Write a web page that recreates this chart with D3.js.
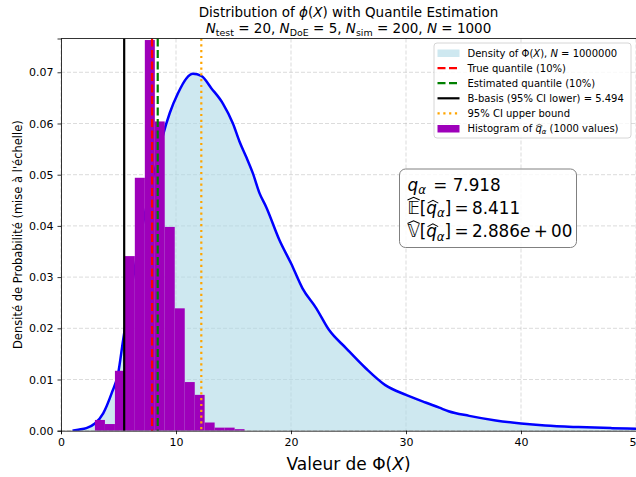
<!DOCTYPE html>
<html>
<head>
<meta charset="utf-8">
<script src="https://cdn.jsdelivr.net/npm/d3@7"></script>
<style>
  body { margin: 0; background: #fff; }
  svg { font-family: "DejaVu Sans", sans-serif; }
  svg text { white-space: pre; }
</style>
</head>
<body>
<div id="chart"></div>
<script>
// density of Phi(X)
const densX = [1.0, 1.5, 2.2, 2.95, 3.67, 4.4, 4.97, 5.4, 5.8, 6.2, 6.6, 7.0, 7.5, 8.0, 8.5, 8.87, 9.45, 10.17, 10.9, 11.47, 12.2, 13.07, 14.08, 14.95, 15.52, 16.1, 16.68, 17.26, 17.84, 19.0, 20.0, 21.0, 22.2, 23.3, 24.8, 26.5, 28.2, 30.0, 31.7, 32.9, 33.7, 35.5, 37.8, 40.0, 42.1, 45.0, 47.9, 50.0, 52.0];
const densY = [0.0, 0.0002, 0.0005, 0.0014, 0.0034, 0.0073, 0.0112, 0.0177, 0.0235, 0.029, 0.034, 0.039, 0.0445, 0.0495, 0.054, 0.0577, 0.062, 0.0659, 0.0688, 0.0697, 0.0693, 0.0669, 0.0639, 0.060, 0.0565, 0.0535, 0.0503, 0.0464, 0.0437, 0.0372, 0.0327, 0.0278, 0.0239, 0.0197, 0.0161, 0.0122, 0.0089, 0.0070, 0.0055, 0.0045, 0.0038, 0.0029, 0.0020, 0.0014, 0.0010, 0.0007, 0.0005, 0.0004, 0.0003];

// histogram of q_alpha estimates (scaled)
const binEdges = [2.95, 3.82, 4.69, 5.55, 6.42, 7.29, 8.16, 9.02, 9.89, 10.76, 11.63, 12.49, 13.36, 14.23, 15.10, 15.96];
const binHeights = [0.0021, 0.0013, 0.0117, 0.0341, 0.0494, 0.0763, 0.0604, 0.0398, 0.0239, 0.0095, 0.0070, 0.0016, 0.0006, 0.0006, 0.0003];

// vertical reference lines
const trueQuantile = 7.918;
const estQuantile = 8.411;
const bBasis = 5.494;
const ciUpper = 12.2;

const xTicks = [0, 10, 20, 30, 40, 50];
const yTicks = [0, 0.01, 0.02, 0.03, 0.04, 0.05, 0.06, 0.07];

const W = 636, H = 477;
const pLeft = 61, pRight = 636, pTop = 38.5, pBottom = 430.7;

const svg = d3.select("#chart").append("svg")
    .attr("width", W).attr("height", H);

const x = d3.scaleLinear().domain([0, 50]).range([pLeft, pRight]);
const y = d3.scaleLinear().domain([0, 0.0766]).range([pBottom, pTop]);

svg.append("defs").append("clipPath").attr("id", "plotclip")
  .append("rect").attr("x", pLeft).attr("y", pTop)
  .attr("width", pRight - pLeft + 5).attr("height", pBottom - pTop);

// grid
const grid = svg.append("g");
grid.selectAll(".gx").data(xTicks).enter().append("line")
    .attr("x1", d => x(d)).attr("x2", d => x(d))
    .attr("y1", pTop).attr("y2", pBottom)
    .attr("stroke", "#b0b0b0").attr("stroke-opacity", 0.5)
    .attr("stroke-dasharray", "4,2").attr("stroke-width", 0.9);
grid.selectAll(".gy").data(yTicks).enter().append("line")
    .attr("x1", pLeft).attr("x2", pRight)
    .attr("y1", d => y(d)).attr("y2", d => y(d))
    .attr("stroke", "#b0b0b0").attr("stroke-opacity", 0.5)
    .attr("stroke-dasharray", "4,2").attr("stroke-width", 0.9);

const plot = svg.append("g").attr("clip-path", "url(#plotclip)");
const dens = densX.map((d, i) => [d, densY[i]]);

plot.append("path").datum(dens)
    .attr("d", d3.area().x(d => x(d[0])).y0(y(0)).y1(d => y(d[1])).curve(d3.curveMonotoneX))
    .attr("fill", "#add8e6").attr("fill-opacity", 0.6);

plot.append("path").datum(dens)
    .attr("d", d3.line().x(d => x(d[0])).y(d => y(d[1])).curve(d3.curveMonotoneX))
    .attr("fill", "none").attr("stroke", "#0000ff").attr("stroke-width", 2.5);

plot.selectAll(".bar").data(binHeights).enter().append("rect")
    .attr("x", (d, i) => x(binEdges[i]))
    .attr("width", (d, i) => x(binEdges[i + 1]) - x(binEdges[i]))
    .attr("y", d => y(d))
    .attr("height", d => y(0) - y(d))
    .attr("fill", "#9e00ba");

const vlines = [
  { v: trueQuantile, color: "#ff0000", dash: "8,3.5" },
  { v: estQuantile, color: "#008000", dash: "8,3.5" },
  { v: bBasis, color: "#000000", dash: null },
  { v: ciUpper, color: "#ffa500", dash: "2.2,3.6" }
];
plot.selectAll(".vl").data(vlines).enter().append("line")
    .attr("x1", d => x(d.v)).attr("x2", d => x(d.v))
    .attr("y1", pTop).attr("y2", pBottom)
    .attr("stroke", d => d.color).attr("stroke-width", 2.2)
    .attr("stroke-dasharray", d => d.dash);

// axes
const xAxis = svg.append("g").attr("transform", `translate(0,${pBottom})`)
    .call(d3.axisBottom(x).tickValues(xTicks).tickSize(3.5).tickPadding(4).tickFormat(d3.format("d")));
const yAxis = svg.append("g").attr("transform", `translate(${pLeft},0)`)
    .call(d3.axisLeft(y).tickValues(yTicks).tickSize(3.5).tickPadding(4).tickFormat(d3.format(".2f")));
[xAxis, yAxis].forEach(a => {
  a.selectAll("text").attr("font-size", 11).attr("font-family", "DejaVu Sans").attr("fill", "#000");
  a.selectAll("line").attr("stroke", "#000").attr("stroke-width", 0.8);
  a.select(".domain").attr("stroke", "#000").attr("stroke-width", 0.8);
});
svg.append("line").attr("x1", pLeft).attr("x2", pRight + 2).attr("y1", pTop).attr("y2", pTop)
    .attr("stroke", "#000").attr("stroke-width", 0.8);

// rich text helper: parts laid out one after another
function richLine(g, x0, y0, parts, fs) {
  let cx = x0;
  parts.forEach(p => {
    const size = p.sub ? fs * 0.7 : fs;
    const dy = p.sub ? fs * 0.22 : 0;
    const t = g.append("text")
        .attr("x", cx).attr("y", y0 + dy)
        .attr("font-size", size)
        .attr("font-style", p.it ? "italic" : "normal")
        .attr("fill", "#000")
        .text(p.t);
    const w = t.node().getComputedTextLength();
    if (p.hat) {
      const hy = p.hatCap ? y0 - fs * 0.80 : y0 - fs * 0.62;
      const hh = fs * 0.16;
      const off = p.it ? fs * 0.08 : 0;
      g.append("path")
        .attr("d", `M${cx + off},${hy} L${cx + off + w / 2},${hy - hh} L${cx + off + w},${hy}`)
        .attr("fill", "none").attr("stroke", "#000").attr("stroke-width", fs * 0.06);
    }
    cx += w + (p.gap || 0);
  });
  return cx - x0;
}

function centeredLine(parts, cxMid, y0, fs) {
  const g = svg.append("g");
  const w = richLine(g, 0, y0, parts, fs);
  g.attr("transform", `translate(${cxMid - w / 2},0)`);
}

// title
centeredLine([
  { t: "Distribution of " }, { t: "ϕ", it: true }, { t: "(" }, { t: "X", it: true },
  { t: ") with Quantile Estimation" }
], (pLeft + pRight) / 2, 16.5, 13.5);
centeredLine([
  { t: "N", it: true }, { t: "test", sub: true }, { t: " = 20, " },
  { t: "N", it: true }, { t: "DoE", sub: true }, { t: " = 5, " },
  { t: "N", it: true }, { t: "sim", sub: true }, { t: " = 200, " },
  { t: "N", it: true }, { t: " = 1000" }
], (pLeft + pRight) / 2, 33, 13.5);

// axis labels
centeredLine([{ t: "Valeur de Φ(" }, { t: "X", it: true }, { t: ")" }], (pLeft + pRight) / 2, 469.5, 17);
svg.append("text")
    .attr("transform", `translate(22,${(pTop + pBottom) / 2}) rotate(-90)`)
    .attr("text-anchor", "middle").attr("font-size", 11.5).attr("fill", "#000")
    .text("Densité de Probabilité (mise à l'échelle)");

// legend
const lg = svg.append("g");
lg.append("rect").attr("x", 434).attr("y", 43).attr("width", 197).attr("height", 95)
    .attr("rx", 3).attr("fill", "#fff").attr("fill-opacity", 0.8)
    .attr("stroke", "#cccccc").attr("stroke-width", 0.8);
const legendRows = [
  { type: "patch", color: "#add8e6", op: 0.6,
    parts: [{ t: "Density of Φ(" }, { t: "X", it: true }, { t: "), " }, { t: "N", it: true }, { t: " = 1000000" }] },
  { type: "line", color: "#ff0000", dash: "8,3.5", parts: [{ t: "True quantile (10%)" }] },
  { type: "line", color: "#008000", dash: "8,3.5", parts: [{ t: "Estimated quantile (10%)" }] },
  { type: "line", color: "#000000", dash: null, parts: [{ t: "B-basis (95% CI lower) = 5.494" }] },
  { type: "line", color: "#ffa500", dash: "2.2,3.6", parts: [{ t: "95% CI upper bound" }] },
  { type: "patch", color: "#9e00ba", op: 1,
    parts: [{ t: "Histogram of " }, { t: "q", it: true, hat: true }, { t: "α", it: true, sub: true }, { t: " (1000 values)" }] }
];
legendRows.forEach((r, i) => {
  const cy = 53 + i * 15.1;
  if (r.type === "patch") {
    lg.append("rect").attr("x", 437.5).attr("y", cy - 3.5).attr("width", 22).attr("height", 7.5)
      .attr("fill", r.color).attr("fill-opacity", r.op);
  } else {
    lg.append("line").attr("x1", 437.5).attr("x2", 459.5).attr("y1", cy).attr("y2", cy)
      .attr("stroke", r.color).attr("stroke-width", 2.2).attr("stroke-dasharray", r.dash);
  }
  richLine(lg, 467.5, cy + 3.6, r.parts, 10);
});

// stats box
const sb = svg.append("g");
sb.append("rect").attr("x", 399.5).attr("y", 169).attr("width", 177).attr("height", 78.5)
    .attr("rx", 6).attr("fill", "#fff").attr("fill-opacity", 0.8)
    .attr("stroke", "#808080").attr("stroke-width", 1);
const fsBox = 16.8;
const thin = "\u2009";
richLine(sb, 407.5, 190.5, [
  { t: "q", it: true }, { t: "α", it: true, sub: true, gap: 2 }, { t: " = 7.918" }
], fsBox);
richLine(sb, 407.5, 213.5, [
  { t: "𝔼", hat: true, hatCap: true }, { t: "[" }, { t: "q", it: true, hat: true },
  { t: "α", it: true, sub: true }, { t: "]" + thin + "=" + thin + "8.411" }
], fsBox);
richLine(sb, 407.5, 237, [
  { t: "𝕍", hat: true, hatCap: true }, { t: "[" }, { t: "q", it: true, hat: true },
  { t: "α", it: true, sub: true }, { t: "]" + thin + "=" + thin + "2.886" }, { t: "e", it: true },
  { t: thin + "+" + thin + "00" }
], fsBox);
</script>
</body>
</html>
